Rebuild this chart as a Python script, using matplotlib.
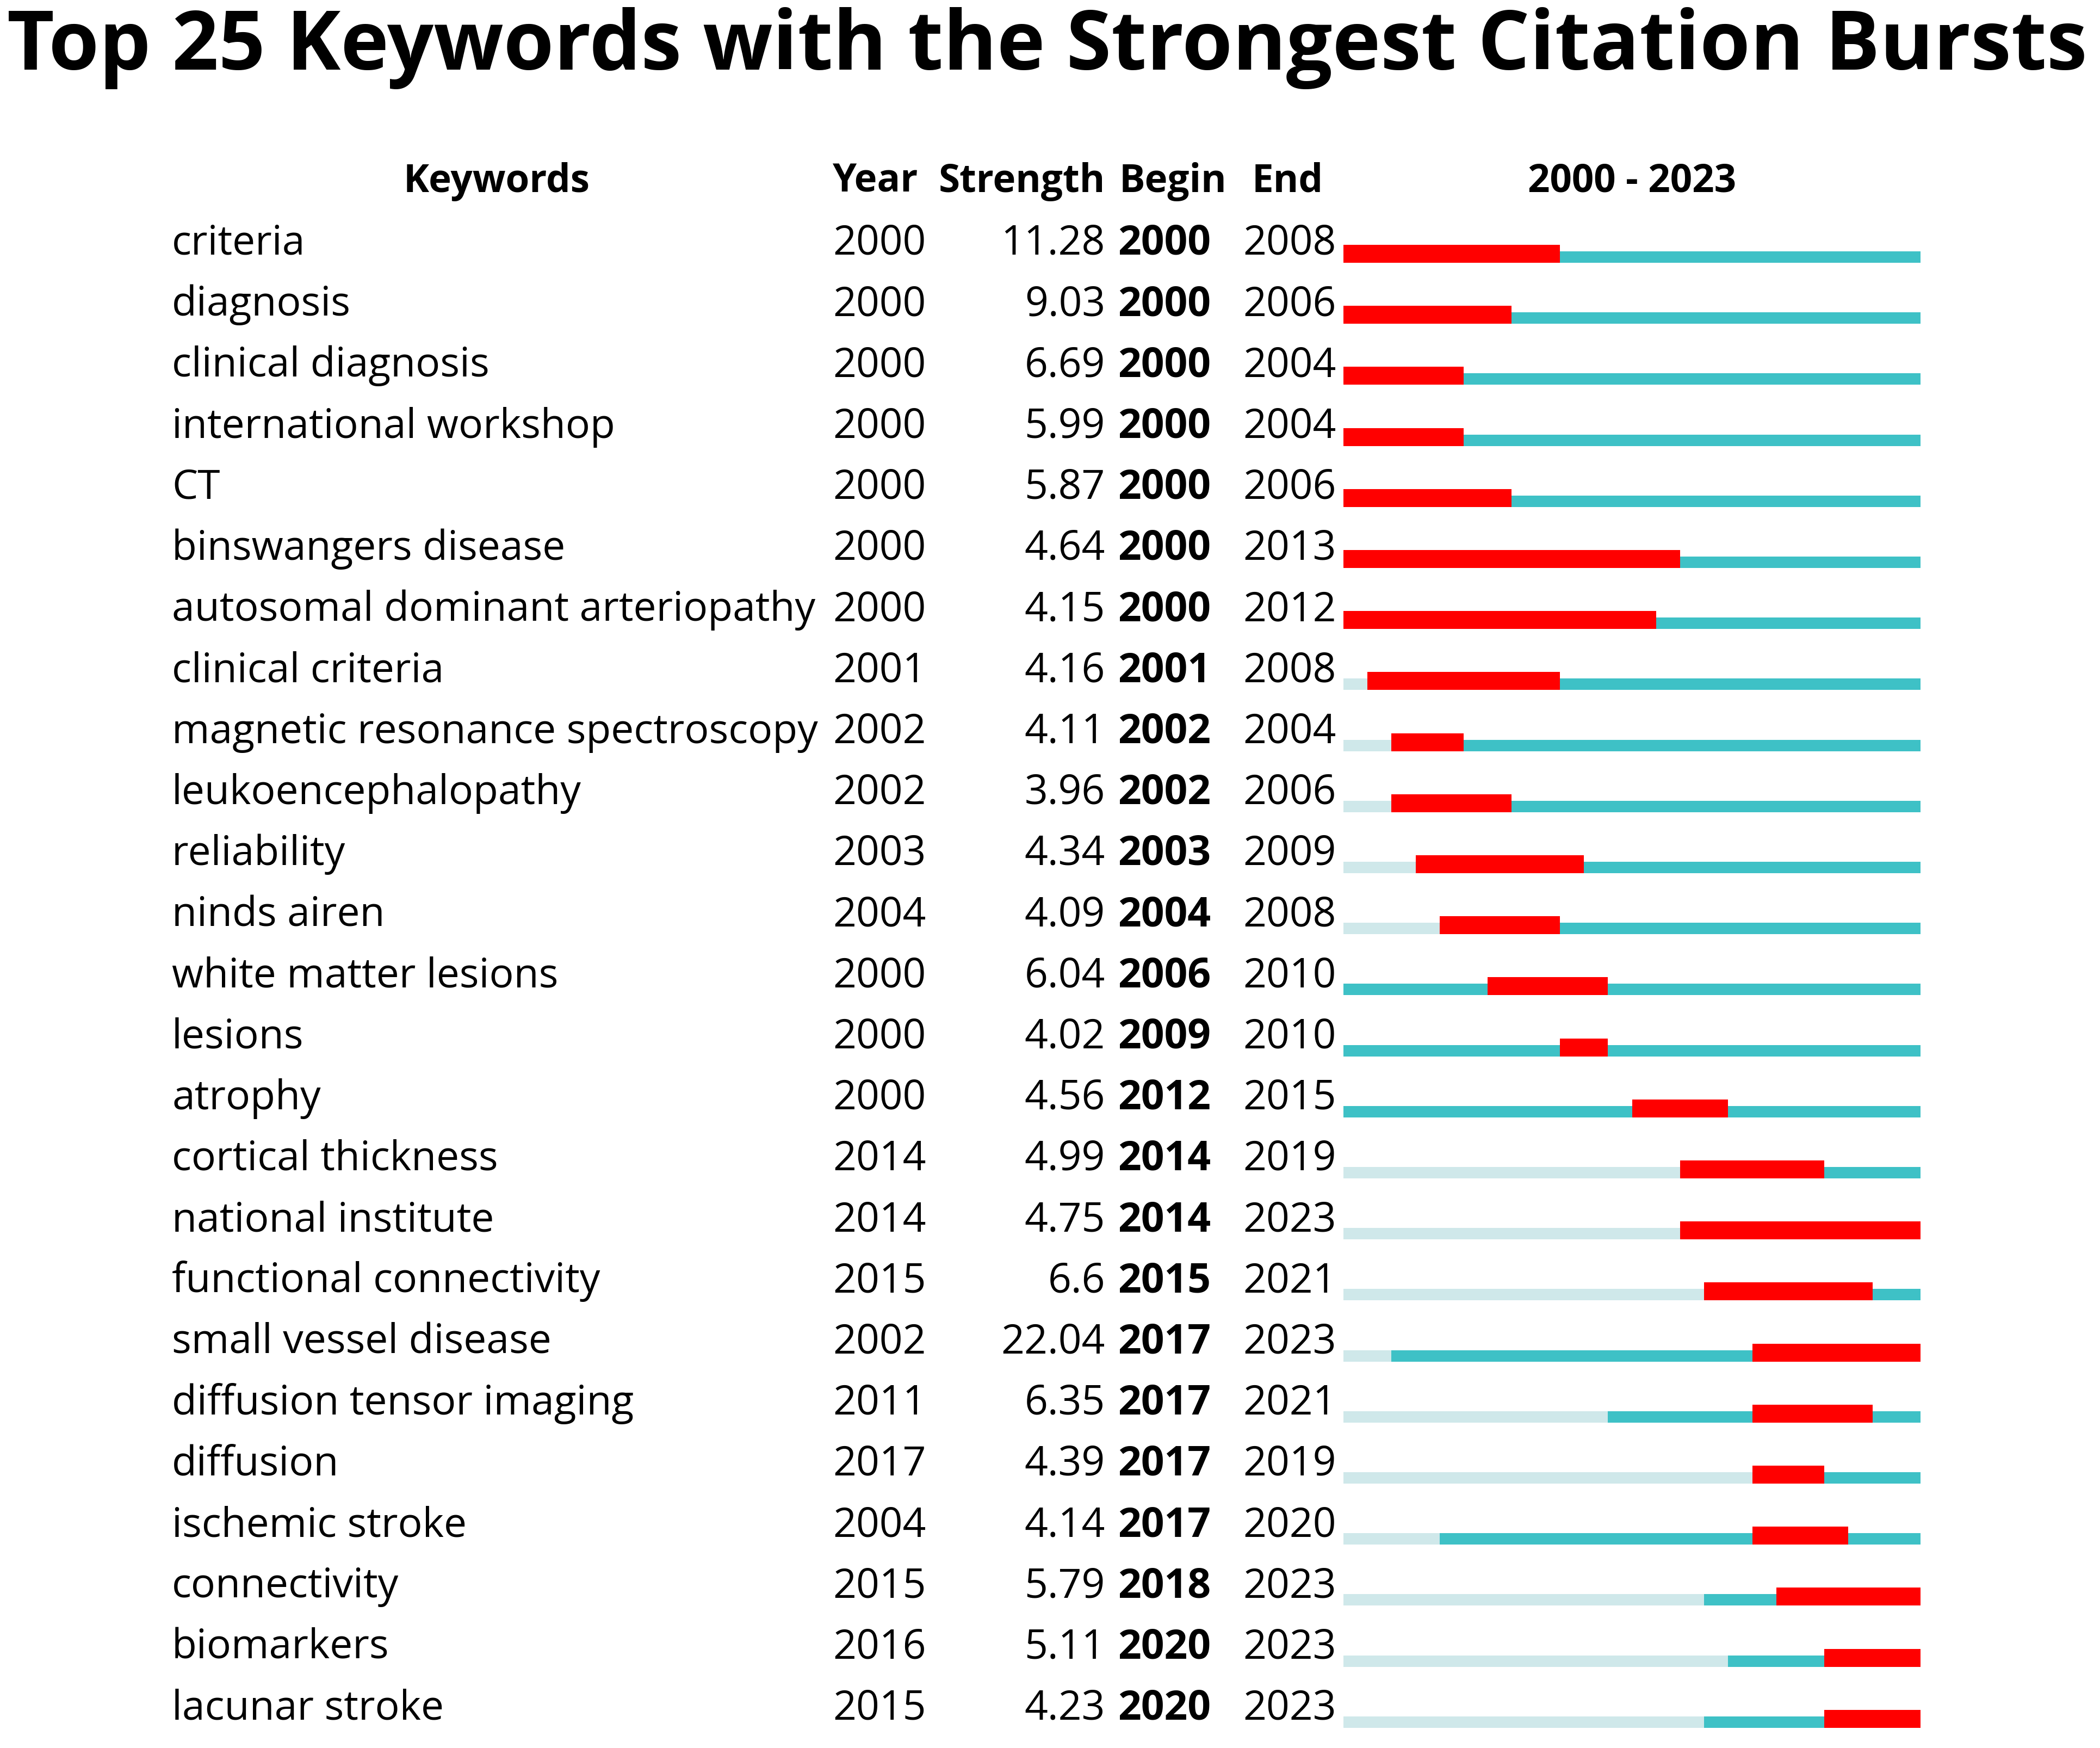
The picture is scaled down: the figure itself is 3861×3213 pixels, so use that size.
import matplotlib
matplotlib.use("Agg")
import matplotlib.pyplot as plt
from matplotlib.transforms import blended_transform_factory

keywords = ["criteria", "diagnosis", "clinical diagnosis", "international workshop", "CT",
            "binswangers disease", "autosomal dominant arteriopathy", "clinical criteria",
            "magnetic resonance spectroscopy", "leukoencephalopathy", "reliability", "ninds airen",
            "white matter lesions", "lesions", "atrophy", "cortical thickness", "national institute",
            "functional connectivity", "small vessel disease", "diffusion tensor imaging", "diffusion",
            "ischemic stroke", "connectivity", "biomarkers", "lacunar stroke"]
years = [2000, 2000, 2000, 2000, 2000, 2000, 2000, 2001, 2002, 2002, 2003, 2004, 2000,
         2000, 2000, 2014, 2014, 2015, 2002, 2011, 2017, 2004, 2015, 2016, 2015]
strengths = [11.28, 9.03, 6.69, 5.99, 5.87, 4.64, 4.15, 4.16, 4.11, 3.96, 4.34, 4.09, 6.04,
             4.02, 4.56, 4.99, 4.75, 6.6, 22.04, 6.35, 4.39, 4.14, 5.79, 5.11, 4.23]
begins = [2000, 2000, 2000, 2000, 2000, 2000, 2000, 2001, 2002, 2002, 2003, 2004, 2006,
          2009, 2012, 2014, 2014, 2015, 2017, 2017, 2017, 2017, 2018, 2020, 2020]
ends = [2008, 2006, 2004, 2004, 2006, 2013, 2012, 2008, 2004, 2006, 2009, 2008, 2010,
        2010, 2015, 2019, 2023, 2021, 2023, 2021, 2019, 2020, 2023, 2023, 2023]
first_year, last_year = 2000, 2023

RED, TEAL, LIGHT = "#ff0000", "#3ec1c6", "#cfe8ea"
FONT = "Open Sans"
W, H, DPI = 3862, 3213, 100
FS, HFS = 54, 51

fig = plt.figure(figsize=(W / DPI, H / DPI), dpi=DPI)
fig.patch.set_facecolor("white")

# timeline axes: x in years, y in row units (row i bar bottom sits at y=i)
row0, pitch = 483, 112.2
ax = fig.add_axes([2470 / W, 0, (3531 - 2470) / W, 1])
ax.set_xlim(first_year, last_year + 1)
ax.set_ylim((H - row0) / pitch, -row0 / pitch)
ax.axis("off")

for i, (y, b, e) in enumerate(zip(years, begins, ends)):
    if y > first_year:
        ax.barh(i, y - first_year, left=first_year, height=-0.187, align="edge", color=LIGHT, lw=0)
    ax.barh(i, last_year + 1 - y, left=y, height=-0.187, align="edge", color=TEAL, lw=0)
    ax.barh(i, e + 1 - b, left=b, height=-0.294, align="edge", color=RED, lw=0)

tr = blended_transform_factory(fig.transFigure, ax.transData)
def px(x):
    return x / W

kw = dict(transform=tr, va="baseline", fontsize=FS, family=FONT, color="black")
for i in range(len(keywords)):
    yb = i - 0.134
    ax.text(px(316), yb, keywords[i], ha="left", **kw)
    ax.text(px(1531), yb, str(years[i]), ha="left", **kw)
    ax.text(px(2032), yb, f"{strengths[i]:g}", ha="right", **kw)
    ax.text(px(2055), yb, str(begins[i]), ha="left", fontweight="bold", **kw)
    ax.text(px(2285), yb, str(ends[i]), ha="left", **kw)

# column headers
hy = -1.159
hkw = dict(kw, fontweight="bold", fontsize=HFS)
ax.text(px(913), hy, "Keywords", ha="center", **hkw)
ax.text(px(1530), hy, "Year", ha="left", **hkw)
ax.text(px(2032), hy, "Strength", ha="right", **hkw)
ax.text(px(2058), hy, "Begin", ha="left", **hkw)
ax.text(px(2367), hy, "End", ha="center", **hkw)
ax.text((first_year + last_year + 1) / 2, hy, f"{first_year} - {last_year}", ha="center",
        va="baseline", fontsize=HFS, family=FONT, fontweight="bold", transform=ax.transData)

ax.text(0.4985, -3.164, "Top 25 Keywords with the Strongest Citation Bursts", transform=tr,
        ha="center", va="baseline", fontsize=108, family=FONT, fontweight="bold")

fig.savefig("out.png", dpi=DPI, facecolor="white")
